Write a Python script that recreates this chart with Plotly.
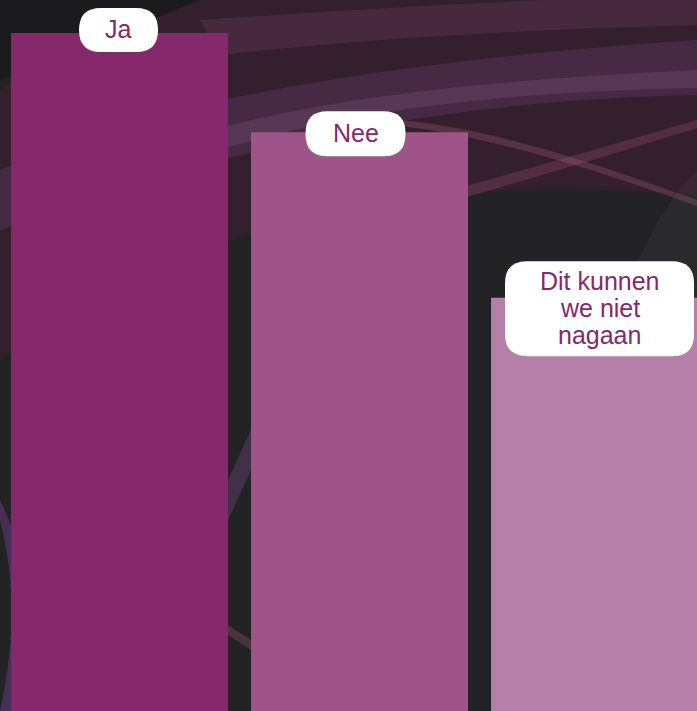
import plotly.graph_objects as go

# ---- data ----
categories = ["Ja", "Nee", "Dit kunnen we niet nagaan"]
label_lines = [["Ja"], ["Nee"], ["Dit kunnen", "we niet", "nagaan"]]
values = [41, 35, 25]

# ---- styles ----
W, H = 697, 711
bar_colors = ["#86286c", "#9e5489", "#b57fa8"]
text_color = "#86286c"
box_w = [79, 100, 189]
box_h = [44, 45, 95]
box_dy = [3, -1.5, -11]   # pixel shift of label centre relative to bar top (up = +)
box_dx = [-1, -4, 0]
radius = 22
line_gap = 27
font_size = 25
ymax = 43.0

def pp(x, y):
    return f"{x / W:.4f},{1 - y / H:.4f}"

def path(cmds):
    out = []
    for c in cmds:
        if isinstance(c, str):
            out.append(c)
        else:
            out.append(" ".join(pp(*p) for p in c))
    return " ".join(out)

bg_shapes = []
def bg(cmds, color, opacity=1.0):
    bg_shapes.append(dict(type="path", xref="paper", yref="paper", layer="below",
                          path=path(cmds), fillcolor=color, opacity=opacity,
                          line=dict(width=0)))

# maroon upper sweep
bg(["M", [(130, 0)], "L", [(697, 0)], "L", [(697, 195)], "C", [(600, 188), (470, 182), (330, 210)],
    "C", [(220, 235), (80, 300), (0, 360)], "L", [(0, 90)], "C", [(40, 60), (90, 25), (130, 0)], "Z"],
   "#34202d")
# lighter purple wide ribbons
bg(["M", [(0, 170)], "C", [(150, 100), (400, 60), (697, 40)], "L", [(697, 95)], "C", [(450, 100), (250, 140), (0, 230)], "Z"],
   "#6a3f6e", 0.35)
bg(["M", [(150, 150)], "C", [(300, 95), (500, 80), (697, 70)], "L", [(697, 88)], "C", [(500, 92), (320, 110), (160, 170)], "Z"],
   "#8a5a8e", 0.25)
bg(["M", [(200, 20)], "C", [(350, 10), (500, 0), (697, -5)], "L", [(697, 25)], "C", [(500, 30), (350, 40), (220, 55)], "Z"],
   "#6e3d5e", 0.35)
bg(["M", [(300, 230)], "C", [(420, 200), (560, 160), (697, 120)], "L", [(697, 128)], "C", [(560, 170), (430, 210), (300, 240)], "Z"],
   "#8e4a6c", 0.35)
bg(["M", [(400, 120)], "C", [(500, 130), (600, 165), (697, 200)], "L", [(697, 206)], "C", [(600, 172), (500, 138), (400, 126)], "Z"],
   "#a85a7c", 0.3)
# lighter grey disc on the right
bg_shapes.append(dict(type="circle", xref="paper", yref="paper", layer="below",
                      x0=590 / W, x1=1.4, y0=1 - 900 / H, y1=1 - 130 / H,
                      fillcolor="#ffffff", opacity=0.035, line=dict(width=0)))
# dark top-left corner
bg(["M", [(0, 0)], "L", [(200, 0)], "C", [(150, 20), (80, 50), (0, 80)], "Z"], "#1b1b1d")
# lower left purple swirl
bg(["M", [(0, 520)], "C", [(10, 560), (20, 620), (0, 711)], "L", [(40, 711)], "C", [(40, 640), (30, 560), (0, 500)], "Z"],
   "#6a3a8a", 0.5)
# gap ribbons between bars
bg(["M", [(228, 480)], "L", [(251, 430)], "L", [(251, 470)], "L", [(228, 520)], "Z"], "#7a4a8a", 0.35)
bg(["M", [(228, 625)], "L", [(251, 640)], "L", [(251, 650)], "L", [(228, 635)], "Z"], "#8a4a5a", 0.4)

fig = go.Figure()
fig.add_trace(go.Bar(
    x=list(range(len(categories))), y=values,
    marker=dict(color=bar_colors, line=dict(width=0)),
    hoverinfo="skip", showlegend=False,
))

def rounded(w, h, r, cx, cy):
    r = min(r, h / 2, w / 2)
    x0, x1 = cx - w / 2, cx + w / 2
    y0, y1 = cy - h / 2, cy + h / 2
    return (f"M {x0 + r},{y0} L {x1 - r},{y0} Q {x1},{y0} {x1},{y0 + r} "
            f"L {x1},{y1 - r} Q {x1},{y1} {x1 - r},{y1} L {x0 + r},{y1} "
            f"Q {x0},{y1} {x0},{y1 - r} L {x0},{y0 + r} Q {x0},{y0} {x0 + r},{y0} Z")

shapes = list(bg_shapes)
annotations = []
for i, (lines, v) in enumerate(zip(label_lines, values)):
    shapes.append(dict(type="path", xref="x", yref="y", xsizemode="pixel", ysizemode="pixel",
                       xanchor=i, yanchor=v, layer="above",
                       path=rounded(box_w[i], box_h[i], radius, box_dx[i], box_dy[i]),
                       fillcolor="white", line=dict(width=0)))
    n = len(lines)
    for k, txt in enumerate(lines):
        annotations.append(dict(x=i, y=v, xref="x", yref="y", text=txt, showarrow=False,
                                xanchor="center", yanchor="middle", xshift=box_dx[i],
                                yshift=box_dy[i] + ((n - 1) / 2 - k) * line_gap + 1,
                                font=dict(family="Liberation Sans, Arial, sans-serif",
                                          size=font_size, color=text_color)))

fig.update_layout(
    width=W, height=H, margin=dict(l=0, r=0, t=0, b=0),
    paper_bgcolor="#232326", plot_bgcolor="rgba(0,0,0,0)",
    bargap=23 / 240,
    xaxis=dict(range=[-0.498, -0.498 + W / 240], visible=False, fixedrange=True),
    yaxis=dict(range=[0, ymax], visible=False, fixedrange=True),
    shapes=shapes, annotations=annotations,
)
fig.write_html("out.html", config={"displayModeBar": False},
               post_script="document.body.style.margin='0';document.body.style.overflow='hidden';")
